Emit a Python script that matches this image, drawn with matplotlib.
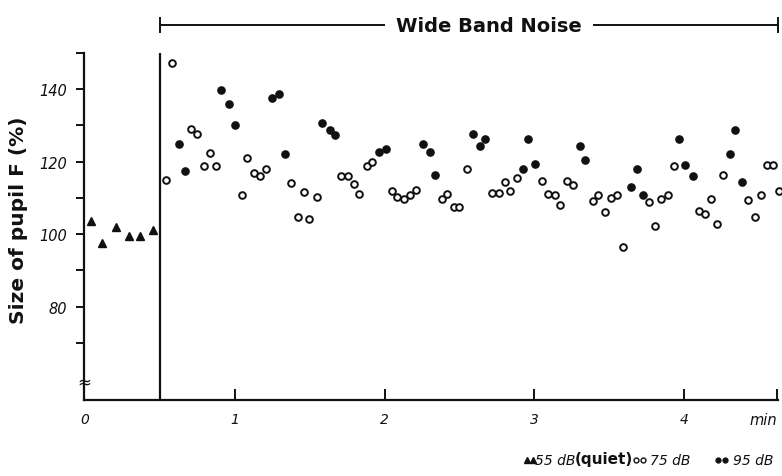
import matplotlib
matplotlib.use('Agg')
import matplotlib.pyplot as plt
import matplotlib.transforms as mtransforms
from matplotlib.lines import Line2D

# time in minutes, pupil size in % of baseline
quiet_t = [0.036, 0.114, 0.203, 0.292, 0.367, 0.450]
quiet_v = [103.7, 97.7, 101.9, 99.4, 99.4, 101.2]

db75_t = [0.537, 0.577, 0.706, 0.746, 0.793, 0.831, 0.873, 1.045, 1.082, 1.127,
          1.167, 1.209, 1.376, 1.419, 1.461, 1.497, 1.548, 1.710, 1.753, 1.793,
          1.830, 1.880, 1.917, 2.047, 2.084, 2.129, 2.167, 2.209, 2.381, 2.418,
          2.461, 2.500, 2.548, 2.715, 2.762, 2.804, 2.839, 2.884, 3.051, 3.089,
          3.138, 3.173, 3.216, 3.256, 3.391, 3.427, 3.472, 3.512, 3.554, 3.594,
          3.768, 3.808, 3.848, 3.893, 3.931, 4.100, 4.140, 4.180, 4.220, 4.260,
          4.427, 4.474, 4.514, 4.556, 4.594, 4.634]
db75_v = [114.9, 147.3, 128.9, 127.7, 118.7, 122.3, 118.7, 110.7, 121.1, 116.8,
          116.0, 117.9, 114.0, 104.8, 111.7, 104.1, 110.4, 116.1, 116.1, 113.9,
          111.0, 118.9, 120.0, 112.0, 110.2, 109.6, 110.9, 112.1, 109.6, 111.1,
          107.6, 107.6, 118.0, 111.3, 111.3, 114.4, 111.8, 115.5, 114.8, 111.2,
          110.7, 108.0, 114.6, 113.6, 109.2, 110.7, 106.2, 109.9, 110.8, 96.4,
          108.8, 102.3, 109.8, 110.8, 118.8, 106.3, 105.6, 109.6, 102.9, 116.4,
          109.4, 104.8, 110.7, 119.1, 119.1, 111.8]

db95_t = [0.624, 0.666, 0.908, 0.958, 1.000, 1.247, 1.294, 1.332, 1.583, 1.633,
          1.670, 1.962, 2.007, 2.254, 2.305, 2.334, 2.588, 2.635, 2.670, 2.924,
          2.959, 3.006, 3.307, 3.340, 3.643, 3.683, 3.723, 3.964, 4.008, 4.060,
          4.307, 4.342, 4.389]
db95_v = [124.9, 117.5, 139.8, 135.8, 130.0, 137.7, 138.6, 122.1, 130.8, 128.8,
          127.3, 122.7, 123.4, 124.9, 122.8, 116.3, 127.6, 124.3, 126.2, 118.0,
          126.3, 119.3, 124.4, 120.4, 113.1, 118.0, 110.7, 126.3, 119.1, 116.2,
          122.0, 128.7, 114.5]

noise_start = 0.5
x_ticks = [1, 2, 3, 4]
y_major = [80, 100, 120, 140]
y_minor = [70, 90, 110, 130, 150]

W, H = 782, 477
ink = '#111111'

fig = plt.figure(figsize=(W / 100, H / 100), dpi=100)
ax = fig.add_axes([84 / W, 1 - 400.5 / H, (778 - 84) / W, (400.5 - 54) / H])
ax.set_xlim(-0.008, 4.628)
ax.set_ylim(54.4, 150)

ax.plot(quiet_t, quiet_v, '^', color=ink, ms=6, clip_on=False)
ax.plot(db75_t, db75_v, 'o', mfc='white', mec=ink, mew=1.4, ms=4.8, clip_on=False)
ax.plot(db95_t, db95_v, 'o', color=ink, ms=5.2, clip_on=False)

ax.axvline(noise_start, color=ink, lw=1.6)

for s in ['top', 'right']:
    ax.spines[s].set_visible(False)
for s in ['left', 'bottom']:
    ax.spines[s].set_linewidth(1.6)
    ax.spines[s].set_color(ink)

ax.set_yticks(y_major)
ax.set_yticks(y_minor, minor=True)
ax.tick_params(axis='y', which='both', direction='out', length=6, width=1.4,
               colors=ink, pad=6)
ax.set_yticklabels([str(v) for v in y_major], fontstyle='italic', fontsize=10.5)

ax.set_xticks(x_ticks + [4.62])
ax.set_xticklabels([str(v) for v in x_ticks] + [''], fontstyle='italic', fontsize=10)
ax.tick_params(axis='x', direction='in', length=8, width=1.4, colors=ink, pad=9)
xtr = mtransforms.blended_transform_factory(ax.transData, ax.transAxes)
ax.text(0, -0.037, '0', transform=xtr, ha='center', va='top',
        fontstyle='italic', fontsize=10, color=ink)
ax.text(4.625, -0.037, 'min', transform=xtr, ha='right', va='top',
        fontstyle='italic', fontsize=10.5, color=ink)

# axis break mark
ax.text(0, 59.5, '\u2248', transform=mtransforms.blended_transform_factory(ax.transAxes, ax.transData),
        ha='center', va='center', fontsize=12, color=ink)

ax.set_ylabel('Size of pupil F (%)', fontsize=14.5, fontweight='bold', color=ink)
ax.yaxis.set_label_coords(-0.08, 0.52)

# bracket for noise period
tr = mtransforms.blended_transform_factory(ax.transData, ax.transAxes)
yb = 1.08
ax.plot([noise_start, 1.996], [yb, yb], color=ink, lw=1.4, transform=tr, clip_on=False)
ax.plot([3.4, 4.628], [yb, yb], color=ink, lw=1.4, transform=tr, clip_on=False)
ax.plot([noise_start, 4.628], [yb, yb], '|', color=ink, ms=12, mew=1.4, transform=tr, clip_on=False)
ax.text(2.697, yb, 'Wide Band Noise', transform=tr, ha='center', va='center',
        fontsize=14, fontweight='bold', color=ink)

# legend line at the bottom
yl = 1 - 461 / H
def fx(px):
    return px / W
fig.add_artist(Line2D([fx(527), fx(532.5)], [yl, yl], ls='none', marker='^', ms=4,
                      color=ink, transform=fig.transFigure))
fig.text(fx(535), yl, '55 dB', ha='left', va='center', fontstyle='italic', fontsize=10, color=ink)
fig.text(fx(575), yl + 0.003, '(quiet)', ha='left', va='center', fontweight='bold',
         fontsize=11, color=ink)
fig.add_artist(Line2D([fx(636), fx(643)], [yl, yl], ls='none', marker='o', ms=3.5,
                      mfc='white', mec=ink, mew=1, transform=fig.transFigure))
fig.text(fx(650), yl, '75 dB', ha='left', va='center', fontstyle='italic', fontsize=10, color=ink)
fig.add_artist(Line2D([fx(718), fx(725)], [yl, yl], ls='none', marker='o', ms=3.5,
                      color=ink, transform=fig.transFigure))
fig.text(fx(733), yl, '95 dB', ha='left', va='center', fontstyle='italic', fontsize=10, color=ink)

fig.savefig('out.png', dpi=100)
